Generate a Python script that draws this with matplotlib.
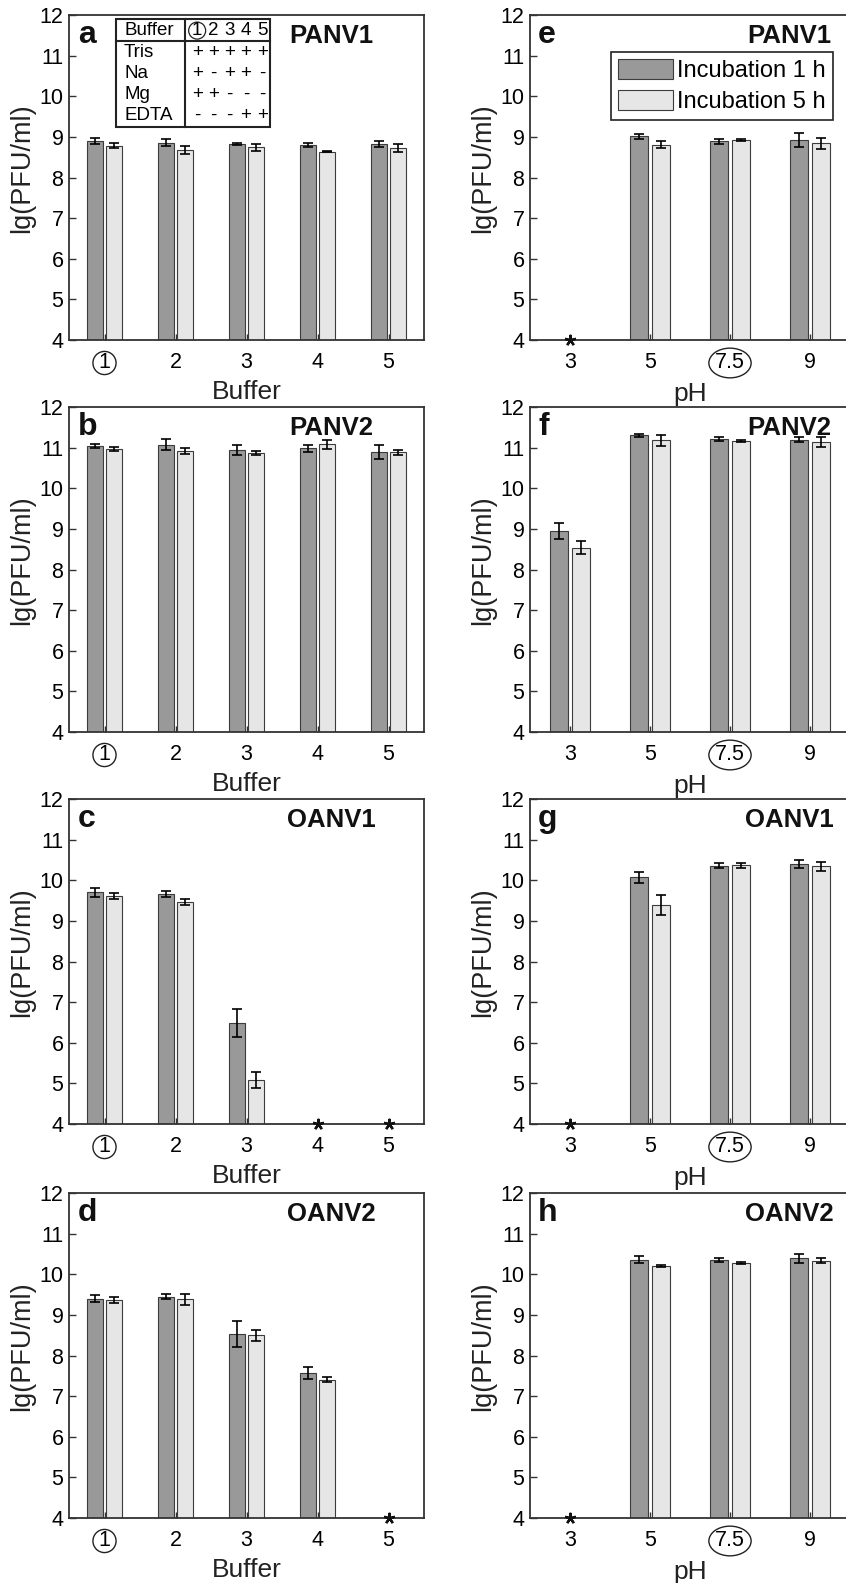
import numpy as np
import matplotlib
matplotlib.use('Agg')
import matplotlib.pyplot as plt

plt.rcParams['font.family'] = ['Liberation Sans', 'DejaVu Sans']

NA = np.nan

# ---------------- data ----------------
buffer_labels = ['1', '2', '3', '4', '5']
ph_labels = ['3', '5', '7.5', '9']
highlight_buffer = '1'
highlight_ph = '7.5'
series_names = ['Incubation 1 h', 'Incubation 5 h']

# Buffer experiments (a-d)
panv1_buf_1h = [8.90, 8.86, 8.82, 8.80, 8.82]
panv1_buf_1h_err = [0.08, 0.08, 0.02, 0.06, 0.08]
panv1_buf_5h = [8.78, 8.68, 8.74, 8.64, 8.72]
panv1_buf_5h_err = [0.065, 0.10, 0.09, 0.01, 0.10]

panv2_buf_1h = [11.04, 11.07, 10.95, 10.98, 10.89]
panv2_buf_1h_err = [0.06, 0.13, 0.12, 0.08, 0.17]
panv2_buf_5h = [10.96, 10.91, 10.86, 11.08, 10.89]
panv2_buf_5h_err = [0.05, 0.07, 0.05, 0.12, 0.06]

oanv1_buf_1h = [9.71, 9.66, 6.48, NA, NA]
oanv1_buf_1h_err = [0.11, 0.07, 0.34, NA, NA]
oanv1_buf_5h = [9.61, 9.47, 5.08, NA, NA]
oanv1_buf_5h_err = [0.08, 0.08, 0.19, NA, NA]

oanv2_buf_1h = [9.40, 9.45, 8.53, 7.56, NA]
oanv2_buf_1h_err = [0.09, 0.07, 0.31, 0.15, NA]
oanv2_buf_5h = [9.36, 9.38, 8.50, 7.40, NA]
oanv2_buf_5h_err = [0.07, 0.13, 0.14, 0.06, NA]

# pH experiments (e-h)
panv1_ph_1h = [NA, 9.01, 8.89, 8.92]
panv1_ph_1h_err = [NA, 0.06, 0.06, 0.18]
panv1_ph_5h = [NA, 8.81, 8.93, 8.84]
panv1_ph_5h_err = [NA, 0.08, 0.02, 0.14]

panv2_ph_1h = [8.94, 11.30, 11.22, 11.19]
panv2_ph_1h_err = [0.20, 0.03, 0.05, 0.06]
panv2_ph_5h = [8.54, 11.18, 11.16, 11.14]
panv2_ph_5h_err = [0.17, 0.13, 0.03, 0.12]

oanv1_ph_1h = [NA, 10.07, 10.36, 10.40]
oanv1_ph_1h_err = [NA, 0.14, 0.06, 0.11]
oanv1_ph_5h = [NA, 9.39, 10.37, 10.35]
oanv1_ph_5h_err = [NA, 0.25, 0.06, 0.11]

oanv2_ph_1h = [NA, 10.36, 10.36, 10.39]
oanv2_ph_1h_err = [NA, 0.09, 0.05, 0.11]
oanv2_ph_5h = [NA, 10.21, 10.28, 10.33]
oanv2_ph_5h_err = [NA, 0.03, 0.03, 0.06]

# Buffer composition table (inset of panel a)
table_components = ['Tris', 'Na', 'Mg', 'EDTA']
table_signs = [['+', '+', '+', '+', '+'],
               ['+', '-', '+', '+', '-'],
               ['+', '+', '-', '-', '-'],
               ['-', '-', '-', '+', '+']]

# ---------------- style ----------------
C_DARK = '#999999'
C_LIGHT = '#e6e6e6'
C_EDGE = '#3c3c3c'
SPINE = '#333333'
YMIN, YMAX = 4, 12
BAR_W = 0.225
OFFSET = 0.14

FIG_W, FIG_H = 846, 1583
fig = plt.figure(figsize=(FIG_W / 100, FIG_H / 100), dpi=100)

row_tops = [15, 407, 799, 1193]
row_h = 325
col_left = [69, 530]
col_w = [355, 320]

left_panels = [
    ('a', 'PANV1', panv1_buf_1h, panv1_buf_1h_err, panv1_buf_5h, panv1_buf_5h_err),
    ('b', 'PANV2', panv2_buf_1h, panv2_buf_1h_err, panv2_buf_5h, panv2_buf_5h_err),
    ('c', 'OANV1', oanv1_buf_1h, oanv1_buf_1h_err, oanv1_buf_5h, oanv1_buf_5h_err),
    ('d', 'OANV2', oanv2_buf_1h, oanv2_buf_1h_err, oanv2_buf_5h, oanv2_buf_5h_err),
]
right_panels = [
    ('e', 'PANV1', panv1_ph_1h, panv1_ph_1h_err, panv1_ph_5h, panv1_ph_5h_err),
    ('f', 'PANV2', panv2_ph_1h, panv2_ph_1h_err, panv2_ph_5h, panv2_ph_5h_err),
    ('g', 'OANV1', oanv1_ph_1h, oanv1_ph_1h_err, oanv1_ph_5h, oanv1_ph_5h_err),
    ('h', 'OANV2', oanv2_ph_1h, oanv2_ph_1h_err, oanv2_ph_5h, oanv2_ph_5h_err),
]


def draw_panel(ax, letter, name, labels, m1, e1, m5, e5, xlabel, highlight, name_x, xpad):
    x = np.arange(1, len(labels) + 1)
    m1 = np.array(m1, float); m5 = np.array(m5, float)
    e1 = np.array(e1, float); e5 = np.array(e5, float)
    b1 = ax.bar(x - OFFSET, m1, BAR_W, color=C_DARK, edgecolor=C_EDGE, linewidth=0.8,
                label=series_names[0], zorder=2)
    b5 = ax.bar(x + OFFSET, m5, BAR_W, color=C_LIGHT, edgecolor=C_EDGE, linewidth=0.8,
                label=series_names[1], zorder=2)
    ax.errorbar(x - OFFSET, m1, yerr=e1, fmt='none', ecolor='k', elinewidth=1.2,
                capsize=3.6, capthick=1.2, zorder=3)
    ax.errorbar(x + OFFSET, m5, yerr=e5, fmt='none', ecolor='k', elinewidth=1.2,
                capsize=3.6, capthick=1.2, zorder=3)
    # asterisks where no plaques were detected
    missing = np.isnan(m1) & np.isnan(m5)
    if missing.any():
        ax.plot(x[missing], np.full(missing.sum(), YMIN), ls='none', marker=(5, 2, 0),
                ms=8, mew=1.7, color='#111111', clip_on=False, zorder=5)
    ax.set_ylim(YMIN, YMAX)
    ax.set_xlim(0.5, len(labels) + 0.5)
    ax.set_yticks(np.arange(YMIN, YMAX + 1))
    ax.set_xticks(x)
    ax.set_xticklabels(labels)
    ax.tick_params(axis='both', direction='in', color=SPINE, width=1, length=4)
    ax.tick_params(axis='y', labelsize=15.5, pad=4, length=5)
    ax.tick_params(axis='x', labelsize=15.5, pad=9)
    for lab in ax.get_xticklabels():
        if lab.get_text() == highlight:
            style = 'circle,pad=0.05' if len(highlight) == 1 else 'ellipse,pad=0.0'
            lab.set_bbox(dict(boxstyle=style, fc='none', ec='#222222', lw=1.0))
    for sp in ax.spines.values():
        sp.set_color(SPINE)
        sp.set_linewidth(1.3)
    ax.set_ylabel('lg(PFU/ml)', fontsize=19.5, color='#222222', labelpad=3)
    ax.yaxis.label.set_y(0.528)
    ax.set_xlabel(xlabel, fontsize=19, color='#222222', labelpad=xpad)
    ax.text(0.025, 0.985, letter, transform=ax.transAxes, ha='left', va='top',
            fontsize=23, fontweight='bold', color='#111111')
    ax.text(name_x, 0.935, name, transform=ax.transAxes, ha='center', va='center',
            fontsize=18.5, fontweight='bold', color='#111111')
    return b1, b5


axes = {}
for r in range(4):
    for c, panels, labels, xlabel, hl, nx, xpad in [
        (0, left_panels, buffer_labels, 'Buffer', highlight_buffer, 0.74, 5),
        (1, right_panels, ph_labels, 'pH', highlight_ph, 0.81, 6),
    ]:
        l = col_left[c] / FIG_W
        b = 1 - (row_tops[r] + row_h) / FIG_H
        ax = fig.add_axes([l, b, col_w[c] / FIG_W, row_h / FIG_H])
        letter, name, m1, e1, m5, e5 = panels[r]
        handles = draw_panel(ax, letter, name, labels, m1, e1, m5, e5, xlabel, hl, nx, xpad)
        axes[letter] = (ax, handles)

# legend in panel e
ax_e, handles = axes['e']
leg = ax_e.legend(handles, series_names, loc='upper right', bbox_to_anchor=(0.947, 0.886),
                  fontsize=17, frameon=True, fancybox=False, edgecolor='#222222',
                  framealpha=1, handlelength=2.3, handleheight=0.95, handletextpad=0.2,
                  labelspacing=0.3, borderpad=0.3, borderaxespad=0)
leg.get_frame().set_linewidth(1.2)

# buffer composition table in panel a
ax_a, _ = axes['a']
tx0, tx1, tdiv = 0.132, 0.566, 0.327
ty0, ty1, thead = 0.655, 0.988, 0.92
tkw = dict(transform=ax_a.transAxes, color='#222222', lw=1.5, zorder=6)
ax_a.add_patch(plt.Rectangle((tx0, ty0), tx1 - tx0, ty1 - ty0, transform=ax_a.transAxes,
                             fc='white', ec='#222222', lw=1.5, zorder=5))
ax_a.plot([tdiv, tdiv], [ty0, ty1], **tkw)
ax_a.plot([tx0, tx1], [thead, thead], **tkw)
col_x = np.linspace(0.361, 0.544, len(buffer_labels))
row_y = np.linspace(0.886, 0.692, len(table_components))
tfs = 13.5
ax_a.text(0.155, 0.952, 'Buffer', transform=ax_a.transAxes, ha='left', va='center',
          fontsize=tfs, zorder=7)
for j, lab in enumerate(buffer_labels):
    t = ax_a.text(col_x[j], 0.952, lab, transform=ax_a.transAxes, ha='center', va='center',
                  fontsize=tfs, zorder=7)
    if lab == highlight_buffer:
        t.set_bbox(dict(boxstyle='circle,pad=0.0', fc='none', ec='#222222', lw=0.9))
for i, comp in enumerate(table_components):
    ax_a.text(0.155, row_y[i], comp, transform=ax_a.transAxes, ha='left', va='center',
              fontsize=tfs, zorder=7)
    for j, s in enumerate(table_signs[i]):
        ax_a.text(col_x[j], row_y[i], s, transform=ax_a.transAxes, ha='center', va='center',
                  fontsize=tfs, zorder=7)

fig.savefig('out.png', dpi=100)
